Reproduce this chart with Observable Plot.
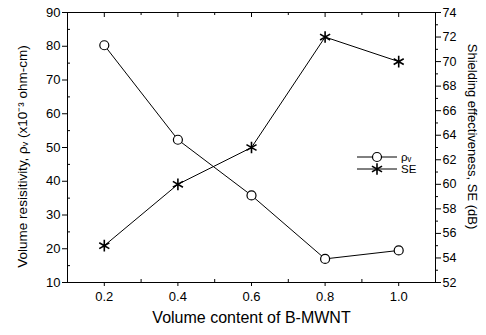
<!DOCTYPE html>
<html><head><meta charset="utf-8">
<script src="https://cdn.jsdelivr.net/npm/d3@7"></script>
<script src="https://cdn.jsdelivr.net/npm/@observablehq/plot@0.6"></script>
<style>
body{margin:0;background:#fff;}
#wrap{position:relative;width:486px;height:335px;font-family:"Liberation Sans",Arial,sans-serif;}
#legend{position:absolute;left:0;top:0;pointer-events:none;}
</style></head>
<body><div id="wrap"></div>
<script>
const content = [0.2, 0.4, 0.6, 0.8, 1.0];
const resistivity = [80.3, 52.3, 35.8, 17.0, 19.5];
const shielding = [55, 60, 63, 72, 70];
const xTicks = [0.2, 0.4, 0.6, 0.8, 1.0];
const xMinor = [0.1, 0.3, 0.5, 0.7, 0.9, 1.1];
const leftTicks = [10, 20, 30, 40, 50, 60, 70, 80, 90];
const leftMinor = [15, 25, 35, 45, 55, 65, 75, 85];
const rightTicks = [52, 54, 56, 58, 60, 62, 64, 66, 68, 70, 72, 74];
const rightMinor = [53, 55, 57, 59, 61, 63, 65, 67, 69, 71, 73];
const xLabel = "Volume content of B-MWNT";
const yLabel = "Volume resisitivity, ρᵥ (x10⁻³ ohm-cm)";
const y2Label = "Shielding effectiveness, SE (dB)";
const legendLabels = ["ρᵥ", "SE"];

const W = 486, H = 335, mL = 67, mR = 51, mT = 12, mB = 53;
const pw = W - mL - mR, ph = H - mT - mB;
const toLeft = v => 10 + (v - 52) * 80 / 22;
const fromLeft = v => Math.round(52 + (v - 10) * 22 / 80);

const rhoData = content.map((x, i) => ({x, y: resistivity[i]}));
const seData = content.map((x, i) => ({x, y: toLeft(shielding[i])}));

const chart = Plot.plot({
  width: W, height: H,
  marginLeft: mL, marginRight: mR, marginTop: mT, marginBottom: mB,
  style: {fontFamily: "Liberation Sans, Arial, sans-serif", fontSize: "12px", color: "black", background: "white"},
  x: {domain: [0.1, 1.1]},
  y: {domain: [10, 90]},
  marks: [
    Plot.frame({stroke: "black", strokeWidth: 1}),
    Plot.axisY(leftTicks, {anchor: "left", tickSize: 5, tickPadding: 2, label: null, fontSize: 13}),
    Plot.tickY(leftMinor, {y: d => d, insetRight: pw - 3, stroke: "black"}),
    Plot.axisY(rightTicks.map(toLeft), {anchor: "right", tickSize: 5, tickPadding: 2, label: null, tickFormat: fromLeft, fontSize: 12.5}),
    Plot.tickY(rightMinor.map(toLeft), {y: d => d, insetLeft: pw, insetRight: -3, stroke: "black"}),
    Plot.axisX(xTicks, {anchor: "bottom", tickSize: 4, tickPadding: 5, label: null, tickFormat: d3.format(".1f"), fontSize: 13}),
    Plot.tickX(xMinor, {x: d => d, insetTop: ph - 3, stroke: "black"}),
    Plot.tickX(xTicks, {x: d => d, insetBottom: ph - 5, stroke: "black"}),
    Plot.tickX(xMinor, {x: d => d, insetBottom: ph - 3, stroke: "black"}),
    Plot.line(rhoData, {x: "x", y: "y", stroke: "black", strokeWidth: 1}),
    Plot.line(seData, {x: "x", y: "y", stroke: "black", strokeWidth: 1}),
    Plot.dot(rhoData, {x: "x", y: "y", r: 4.5, fill: "white", stroke: "black", strokeWidth: 1.2}),
    Plot.dot(seData, {x: "x", y: "y", r: 5.5, symbol: "asterisk", stroke: "black", strokeWidth: 1.6}),
    Plot.text([xLabel], {frameAnchor: "bottom", dy: 40, fontSize: 16, textAnchor: "middle"}),
    Plot.text([yLabel], {frameAnchor: "left", dx: -45, dy: 9, rotate: -90, fontSize: 13.5, textAnchor: "middle"}),
    Plot.text([y2Label], {frameAnchor: "right", dx: 37, dy: -11, rotate: 90, fontSize: 13, textAnchor: "middle"})
  ]
});
const wrap = document.getElementById("wrap");
wrap.appendChild(chart);

// legend overlay
const lg = d3.select(wrap).append("svg").attr("id", "legend").attr("width", W).attr("height", H);
const rows = [157, 169];
rows.forEach((yy, i) => {
  lg.append("line").attr("x1", 357).attr("x2", 397).attr("y1", yy).attr("y2", yy).attr("stroke", "black");
  if (i === 0) {
    lg.append("circle").attr("cx", 377).attr("cy", yy).attr("r", 4.5).attr("fill", "white").attr("stroke", "black").attr("stroke-width", 1.2);
  } else {
    lg.append("path").attr("transform", `translate(377,${yy})`).attr("d", d3.symbol(d3.symbolAsterisk, Math.PI * 5.5 * 5.5)()).attr("stroke", "black").attr("stroke-width", 1.6).attr("fill", "none");
  }
  lg.append("text").attr("x", 401).attr("y", yy + 4).attr("font-size", 11.5).attr("font-family", "Liberation Sans, Arial, sans-serif").text(legendLabels[i]);
});
</script></body></html>
